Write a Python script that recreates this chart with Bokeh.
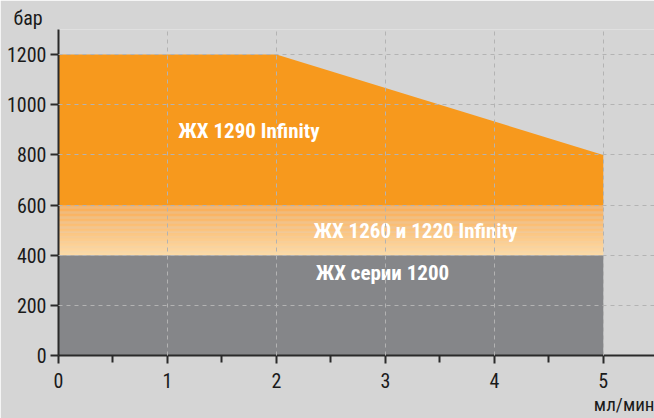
from bokeh.plotting import figure
from bokeh.models import Range1d, FixedTicker, Title
from bokeh.core.properties import value
from bokeh.embed import file_html
from bokeh.resources import INLINE
import numpy as np

# data
flow = [0, 2, 5]                 # мл/мин
p1290 = [1200, 1200, 800]        # бар, ЖХ 1290 Infinity
p1260 = 600                      # бар, ЖХ 1260 и 1220 Infinity
p1200 = 400                      # бар, ЖХ серии 1200
x_ticks = [0, 1, 2, 3, 4, 5]
y_ticks = [0, 200, 400, 600, 800, 1000, 1200]
labels = ["ЖХ 1290 Infinity", "ЖХ 1260 и 1220 Infinity", "ЖХ серии 1200"]

FONT = "Roboto Condensed, DejaVu Sans Condensed, Roboto"
BG = "#d5d5d5"

p = figure(width=654, height=418, output_backend="svg", toolbar_location=None,
           x_range=Range1d(0, 5.47), y_range=Range1d(0, 1300),
           min_border_left=58, min_border_top=29, min_border_bottom=63, min_border_right=0)
p.background_fill_color = BG
p.border_fill_color = BG
p.outline_line_color = None

# grey area
p.quad(left=flow[0], right=flow[-1], bottom=0, top=p1200, fill_color="#858689", line_color=None)

# gradient band between p1200 and p1260
n = 40
edges = np.linspace(p1200, p1260, n + 1)
c0 = np.array([253, 219, 168])
c1 = np.array([250, 172, 84])
cols = []
for i in range(n):
    t = (i + 0.5) / n
    c = (c0 * (1 - t) + c1 * t).astype(int)
    cols.append("#%02x%02x%02x" % tuple(c))
p.quad(left=flow[0], right=flow[-1], bottom=edges[:-1], top=edges[1:] + 0.5,
       fill_color=cols, line_color=None)

# orange area
xs = [flow[0]] + flow + [flow[-1]]
ys = [p1260] + p1290 + [p1260]
p.patch(xs, ys, fill_color="#f7991d", line_color=None)

# texts
p.text(x=[1.10, 2.34, 2.36], y=[897, 498, 327], text=labels,
       text_color="white", text_font=value(FONT), text_font_size="21px",
       text_font_style="bold", text_baseline="middle", text_align="left")

# axes
for ax in (p.xaxis, p.yaxis):
    ax.axis_line_color = "#2a2a2a"
    ax.axis_line_width = 2
    ax.major_tick_line_color = "#2a2a2a"
    ax.major_tick_line_width = 2
    ax.major_label_text_font = FONT
    ax.major_label_text_font_size = "20px"
    ax.major_label_text_color = "#1a1a1a"
p.xaxis.ticker = FixedTicker(ticks=x_ticks, minor_ticks=[0.5, 1.5, 2.5, 3.5, 4.5])
p.yaxis.ticker = FixedTicker(ticks=y_ticks, minor_ticks=[])
p.xaxis.major_tick_in = 0
p.xaxis.major_tick_out = 8
p.xaxis.minor_tick_in = 0
p.xaxis.minor_tick_out = 7
p.xaxis.minor_tick_line_color = "#2a2a2a"
p.xaxis.minor_tick_line_width = 2
p.yaxis.major_tick_in = 0
p.yaxis.major_tick_out = 8
p.yaxis.minor_tick_line_color = None
p.xaxis.major_label_standoff = 9
p.yaxis.major_label_standoff = 4

for g in (p.xgrid, p.ygrid):
    g.grid_line_color = "#b3b3b3"
    g.grid_line_dash = "4 4"
    g.grid_line_width = 1
    g.level = "overlay"
p.xgrid.ticker = FixedTicker(ticks=x_ticks[1:])
p.ygrid.ticker = FixedTicker(ticks=y_ticks[1:])

# y axis unit above the axis
p.add_layout(Title(text="бар", align="left", offset=-45, standoff=0,
                   text_font=FONT, text_font_size="20px", text_font_style="normal",
                   text_color="#1a1a1a"), "above")
# x axis unit below the axis, right-aligned
p.add_layout(Title(text="мл/мин", align="right", offset=0, standoff=0,
                   text_font=FONT, text_font_size="19px", text_font_style="normal",
                   text_color="#1a1a1a"), "below")

open("out.html", "w").write(file_html(p, INLINE))
